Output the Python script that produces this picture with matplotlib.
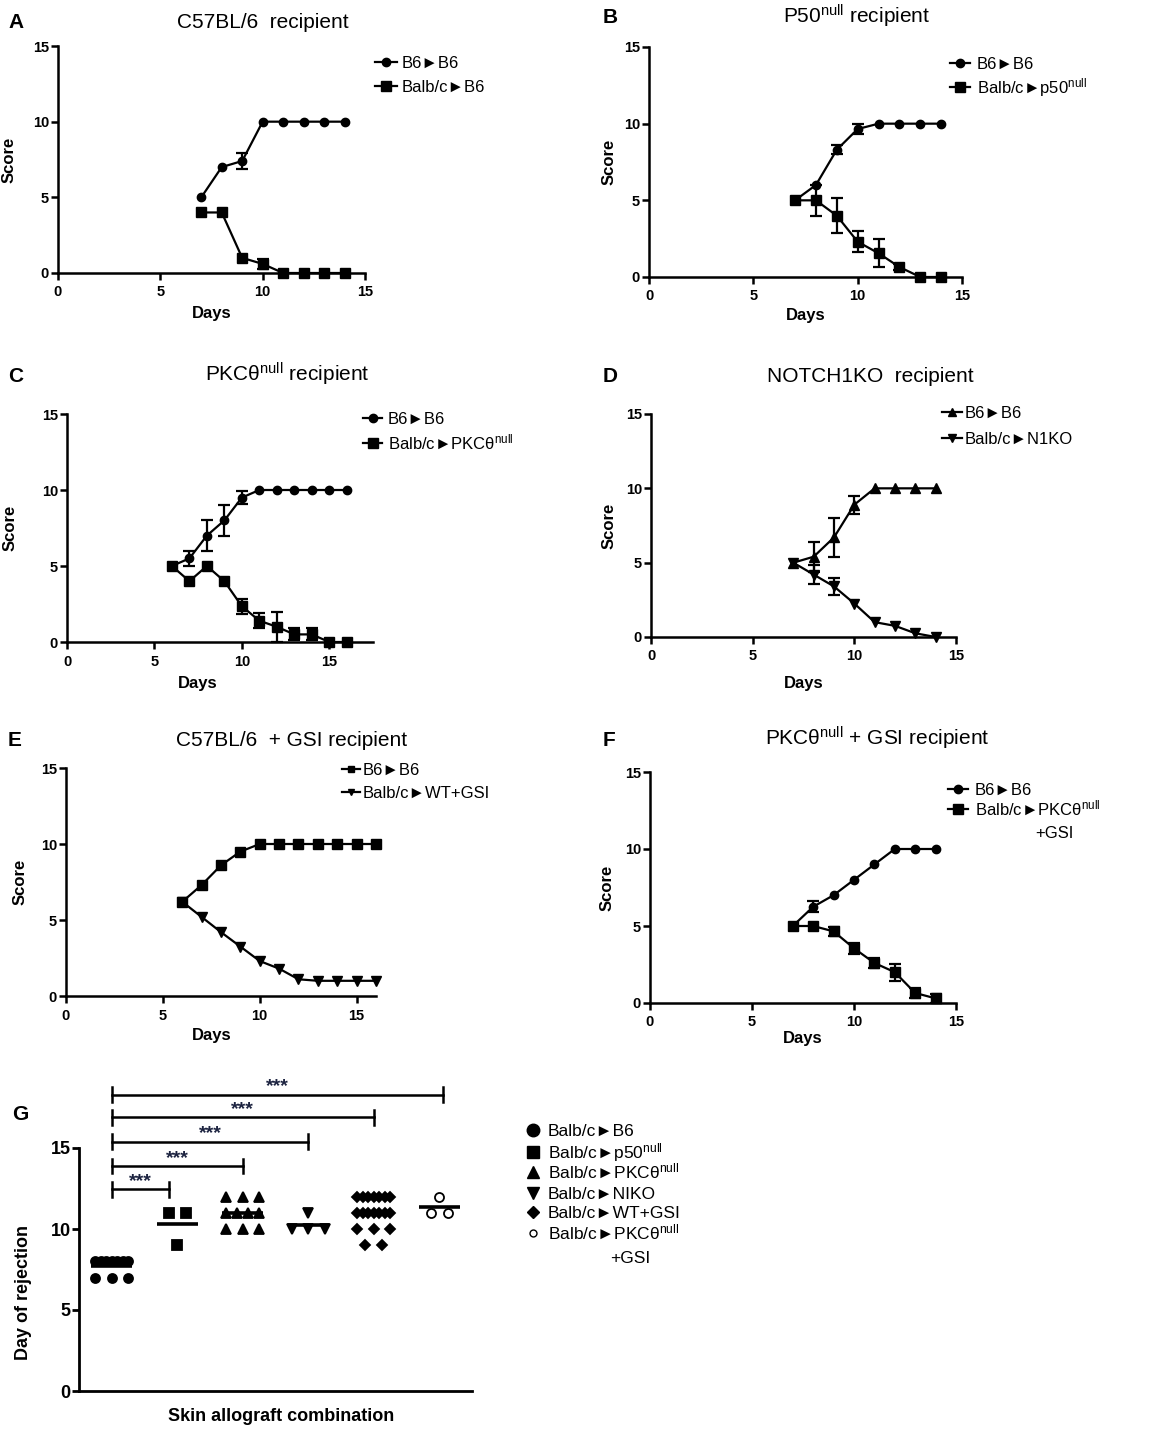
import numpy as np
import matplotlib

matplotlib.use("Agg")
import matplotlib.pyplot as plt
from matplotlib.lines import Line2D
from matplotlib.transforms import Affine2D

W, H = 1158, 1432

# --- values ----------------------------------------------------------------
A_DAYS = [7, 8, 9, 10, 11, 12, 13, 14]
A_B6 = [5, 7, 7.4, 10, 10, 10, 10, 10]
A_B6_ERR = [0, 0, 0.5, 0, 0, 0, 0, 0]
A_BALB = [4, 4, 1, 0.6, 0, 0, 0, 0]
A_BALB_ERR = [0, 0, 0, 0.35, 0, 0, 0, 0]

B_DAYS = [7, 8, 9, 10, 11, 12, 13, 14]
B_B6 = [5, 6, 8.3, 9.65, 10, 10, 10, 10]
B_B6_ERR = [0, 0, 0.3, 0.3, 0, 0, 0, 0]
B_P50 = [5, 5, 4, 2.3, 1.55, 0.65, 0, 0]
B_P50_ERR = [0, 1.0, 1.15, 0.7, 0.9, 0.2, 0, 0]

C_DAYS = [6, 7, 8, 9, 10, 11, 12, 13, 14, 15, 16]
C_B6 = [5, 5.5, 7, 8, 9.5, 10, 10, 10, 10, 10, 10]
C_B6_ERR = [0, 0.5, 1.0, 1.0, 0.45, 0, 0, 0, 0, 0, 0]
C_PKC = [5, 4, 5, 4, 2.35, 1.4, 1.0, 0.5, 0.5, 0, 0]
C_PKC_ERR = [0, 0, 0, 0, 0.5, 0.5, 1.0, 0.4, 0.4, 0, 0]

D_DAYS = [7, 8, 9, 10, 11, 12, 13, 14]
D_B6 = [5, 5.4, 6.7, 8.9, 10, 10, 10, 10]
D_B6_ERR = [0, 1.0, 1.3, 0.6, 0, 0, 0, 0]
D_N1KO = [5, 4.2, 3.4, 2.25, 1.0, 0.75, 0.25, 0]
D_N1KO_ERR = [0, 0.65, 0.6, 0, 0, 0, 0, 0]

E_DAYS = [6, 7, 8, 9, 10, 11, 12, 13, 14, 15, 16]
E_B6 = [6.2, 7.3, 8.6, 9.5, 10, 10, 10, 10, 10, 10, 10]
E_B6_ERR = [0] * 11
E_GSI = [6.2, 5.2, 4.2, 3.25, 2.3, 1.8, 1.1, 1, 1, 1, 1]
E_GSI_ERR = [0] * 11

F_DAYS = [7, 8, 9, 10, 11, 12, 13, 14]
F_B6 = [5, 6.25, 7, 8, 9, 10, 10, 10]
F_B6_ERR = [0, 0.35, 0, 0, 0, 0, 0, 0]
F_PKC = [5, 5, 4.65, 3.55, 2.6, 2.0, 0.65, 0.3]
F_PKC_ERR = [0, 0, 0.3, 0.35, 0.3, 0.55, 0.3, 0.3]

NULL = "$^{\\mathrm{null}}$"
ARROW = "\u25Ba"
G_LABELS = ["Balb/c" + ARROW + "B6", "Balb/c" + ARROW + "p50" + NULL,
            "Balb/c" + ARROW + "PKC\u03b8" + NULL, "Balb/c" + ARROW + "NIKO",
            "Balb/c" + ARROW + "WT+GSI", "Balb/c" + ARROW + "PKC\u03b8" + NULL]
G_DAYS = [
    [8, 8, 8, 8, 8, 8, 8, 7, 7, 7],
    [11, 11, 9],
    [12, 12, 12, 11, 11, 11, 11, 10, 10, 10],
    [11, 10, 10, 10],
    [12, 12, 12, 12, 12, 12, 12, 11, 11, 11, 11, 11, 11, 11, 10, 10, 10, 9, 9],
    [12, 11, 11],
]
G_COMPARED = [2, 3, 4, 5, 6]
G_SIG = ["***", "***", "***", "***", "***"]

# --- style -------------------------------------------------------------------
plt.rcParams.update({
    "font.family": ["Liberation Sans", "DejaVu Sans"],
    "mathtext.fontset": "custom",
    "mathtext.rm": "Liberation Sans",
    "mathtext.it": "Liberation Sans:italic",
    "mathtext.bf": "Liberation Sans:bold",
    "axes.linewidth": 1.8,
})

fig = plt.figure(figsize=(W / 100, H / 100), dpi=100)
PX = Affine2D().scale(1 / W, -1 / H).translate(0, 1) + fig.transFigure
LW = 1.6


def add_ax(l, r, t, b):
    return fig.add_axes([l / W, 1 - b / H, (r - l) / W, (b - t) / H])


def dress(ax, xmax, ylab_dx, xlab_dy, box):
    l, r, t, b = box
    ax.set_xlim(0, xmax)
    ax.set_ylim(0, 15)
    ax.set_xticks([0, 5, 10, 15])
    ax.set_yticks([0, 5, 10, 15])
    for s in ("top", "right"):
        ax.spines[s].set_visible(False)
    ax.tick_params(direction="out", length=5, width=1.8, labelsize=10.5)
    ax.tick_params(axis="y", pad=1.5)
    ax.tick_params(axis="x", pad=4)
    for lab in ax.get_xticklabels() + ax.get_yticklabels():
        lab.set_fontweight("bold")
    ax.set_xlabel("Days", fontsize=12, fontweight="bold")
    ax.set_ylabel("Score", fontsize=12, fontweight="bold")
    ax.yaxis.set_label_coords(-ylab_dx / (r - l), 0.5)
    ax.xaxis.set_label_coords(7.5 / xmax, -xlab_dy / (b - t))


def series(ax, x, y, err, marker, ms):
    x, y, err = np.asarray(x, float), np.asarray(y, float), np.asarray(err, float)
    ax.plot(x, y, color="k", lw=LW, marker=marker, ms=ms, clip_on=False, zorder=3)
    m = err > 0
    if m.any():
        eb = ax.errorbar(x[m], y[m], yerr=err[m], fmt="none", ecolor="k",
                         elinewidth=LW, capsize=4.5, capthick=LW, zorder=3)
        for a in eb.get_children():
            a.set_clip_on(False)


def key(x0, x1, y, marker, ms, text, tx, fs=12, line=True, mfc="k"):
    xs = [x0, (x0 + x1) / 2, x1]
    fig.add_artist(Line2D(xs, [y] * 3, transform=PX, color="k", lw=LW,
                          ls="-" if line else "none", marker=marker, ms=ms,
                          mfc=mfc, mec="k", markevery=[1]))
    fig.text(tx, y + 6, text, transform=PX, fontsize=fs, ha="left", va="baseline")


def head(letter, lx, title, cx, base):
    fig.text(lx, base, letter, transform=PX, fontsize=15, fontweight="bold",
             ha="left", va="baseline")
    fig.text(cx, base, title, transform=PX, fontsize=15, ha="center", va="baseline")


# (A)
box = (58, 365, 46, 273)
ax = add_ax(*box)
series(ax, A_DAYS, A_B6, A_B6_ERR, "o", 6)
series(ax, A_DAYS, A_BALB, A_BALB_ERR, "s", 6.5)
dress(ax, 15, 41, 33, box)
head("A", 8, "C57BL/6  recipient", 263, 28)
key(375, 397, 62, "o", 6, "B6" + ARROW + "B6", 402)
key(375, 397, 86, "s", 6.5, "Balb/c" + ARROW + "B6", 402)

# (B)
box = (649, 962, 47, 277)
ax = add_ax(*box)
series(ax, B_DAYS, B_B6, B_B6_ERR, "o", 6)
series(ax, B_DAYS, B_P50, B_P50_ERR, "s", 6.5)
dress(ax, 15, 32, 31, box)
head("B", 603, "P50" + NULL + " recipient", 857, 23)
key(950, 970, 63, "o", 6, "B6" + ARROW + "B6", 977)
key(950, 970, 87, "s", 6.5, "Balb/c" + ARROW + "p50" + NULL, 977)

# (C)
box = (67, 373, 414, 642)
ax = add_ax(*box)
series(ax, C_DAYS, C_B6, C_B6_ERR, "o", 6)
series(ax, C_DAYS, C_PKC, C_PKC_ERR, "s", 6.5)
dress(ax, 17.5, 49, 34, box)
head("C", 8, "PKC\u03b8" + NULL + " recipient", 287, 382)
key(363, 382, 418, "o", 6, "B6" + ARROW + "B6", 388)
key(363, 382, 443, "s", 6.5, "Balb/c" + ARROW + "PKC\u03b8" + NULL, 388)

# (D)
box = (651, 956, 414, 637)
ax = add_ax(*box)
series(ax, D_DAYS, D_B6, D_B6_ERR, "^", 6.5)
series(ax, D_DAYS, D_N1KO, D_N1KO_ERR, "v", 6.5)
dress(ax, 15, 34, 39, box)
head("D", 603, "NOTCH1KO  recipient", 870, 382)
key(942, 962, 412, "^", 6, "B6" + ARROW + "B6", 965)
key(942, 962, 438, "v", 6, "Balb/c" + ARROW + "N1KO", 965)

# (E)
box = (66, 376, 768, 996)
ax = add_ax(*box)
series(ax, E_DAYS, E_B6, E_B6_ERR, "s", 6.5)
series(ax, E_DAYS, E_GSI, E_GSI_ERR, "v", 6.5)
dress(ax, 16, 38, 32, box)
head("E", 8, "C57BL/6  + GSI recipient", 292, 746)
key(342, 360, 769, "s", 5, "B6" + ARROW + "B6", 363)
key(342, 360, 792, "v", 5, "Balb/c" + ARROW + "WT+GSI", 363)

# (F)
box = (650, 956, 772, 1003)
ax = add_ax(*box)
series(ax, F_DAYS, F_B6, F_B6_ERR, "o", 6)
series(ax, F_DAYS, F_PKC, F_PKC_ERR, "s", 6.5)
dress(ax, 15, 35, 28, box)
head("F", 603, "PKC\u03b8" + NULL + " + GSI recipient", 877, 746)
key(948, 968, 789, "o", 6, "B6" + ARROW + "B6", 975)
key(948, 968, 809, "s", 6.5, "Balb/c" + ARROW + "PKC\u03b8" + NULL, 975)
fig.text(1035, 838, "+GSI", transform=PX, fontsize=12, ha="left", va="baseline")

# (G) day of rejection scatter
gl, gr, gt, gb = 79, 472, 1148, 1391
axg = add_ax(gl, gr, gt, gb)
G_MARKERS = [("o", 6.5, "k"), ("s", 7, "k"), ("^", 6.5, "k"), ("v", 6.5, "k"),
             ("D", 4.8, "k"), ("o", 6.5, "white")]
for i, vals in enumerate(G_DAYS):
    pos = i + 1
    vals = np.asarray(vals, float)
    mk, ms, fc = G_MARKERS[i]
    xs = np.empty_like(vals)
    for v in np.unique(vals):
        idx = np.where(vals == v)[0]
        n = len(idx)
        step = min(0.26, 0.5 / (n - 1)) if n > 1 else 0
        xs[idx] = pos + (np.arange(n) - (n - 1) / 2) * step
    axg.plot(xs, vals, ls="none", marker=mk, ms=ms, mfc=fc, mec="k", mew=1.3,
             clip_on=False, zorder=3)
    axg.plot([pos - 0.31, pos + 0.31], [vals.mean()] * 2, color="k", lw=2.6,
             solid_capstyle="butt", zorder=4)

bracket_y = [12.45, 13.9, 15.4, 16.9, 18.3]
bracket_end = [1.87, 3, 4, 5, 6.05]
for j, (end, yb) in enumerate(zip(bracket_end, bracket_y)):
    axg.plot([1, end], [yb, yb], color="k", lw=1.8, clip_on=False)
    for xe in (1, end):
        axg.plot([xe, xe], [yb - 0.45, yb + 0.45], color="k", lw=1.8, clip_on=False)
    axg.text((1 + end) / 2, yb + 0.2, G_SIG[j], ha="center", va="baseline",
             fontsize=14, fontweight="bold", color="#1c2340", clip_on=False)

axg.set_xlim(0.5, 6.5)
axg.set_ylim(0, 15)
axg.set_xticks([])
axg.set_yticks([0, 5, 10, 15])
for s in ("top", "right"):
    axg.spines[s].set_visible(False)
axg.spines["left"].set_linewidth(2)
axg.spines["bottom"].set_linewidth(2)
axg.tick_params(direction="out", length=5, width=2, labelsize=13, pad=1)
for lab in axg.get_yticklabels():
    lab.set_fontweight("bold")
axg.set_ylabel("Day of rejection", fontsize=13, fontweight="bold")
axg.set_xlabel("Skin allograft combination", fontsize=13, fontweight="bold")
axg.yaxis.set_label_coords(-47 / (gr - gl), (gb - 1292) / (gb - gt))
axg.xaxis.set_label_coords((281 - gl) / (gr - gl), -17 / (gb - gt))
fig.text(12, 1120, "G", transform=PX, fontsize=15, fontweight="bold",
         ha="left", va="baseline")

key_y = [1130, 1152, 1172, 1193, 1212, 1233]
key_ms = [9, 8.5, 9, 9, 6.5, 5]
for i, lab in enumerate(G_LABELS):
    mk, _, fc = G_MARKERS[i]
    key(528, 538, key_y[i], mk, key_ms[i], lab, 548, fs=12.5, line=False, mfc=fc)
fig.text(610, 1263, "+GSI", transform=PX, fontsize=12.5, ha="left", va="baseline")

fig.savefig("out.png", dpi=100)
